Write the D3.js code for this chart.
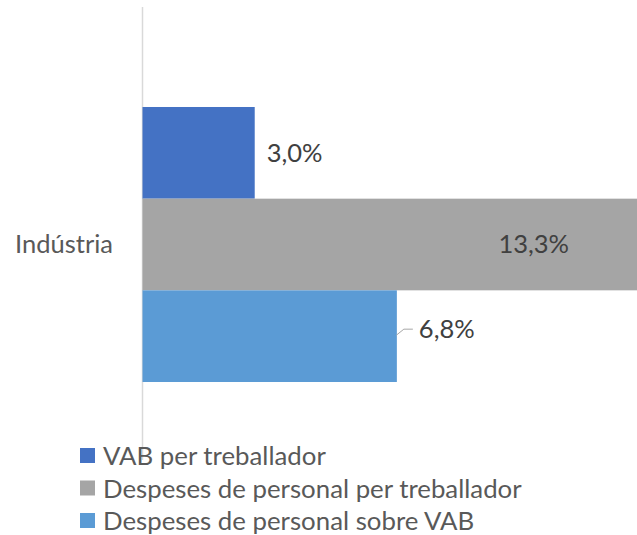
<!DOCTYPE html>
<html lang="ca">
<head>
  <meta charset="UTF-8">
  <title>Indústria</title>
  <style>
    body { margin: 0; background: #fff; }
    svg { display: block; font-family: Lato, "Open Sans", sans-serif; }
    .cat-label { fill: #595959; font-size: 25.5px; }
    .val-label { fill: #404040; font-size: 25.5px; }
    .legend text { fill: #595959; font-size: 25.8px; }
  </style>
</head>
<body>
<svg width="637" height="535"></svg>

<script src="https://d3js.org/d3.v7.min.js"></script>
<script>
  // data
  const categories = ["Indústria"];
  const seriesNames = ["VAB per treballador", "Despeses de personal per treballador", "Despeses de personal sobre VAB"];
  const values = [3.0, 13.3, 6.8];
  const colors = ["#4472C4", "#A5A5A5", "#5B9BD5"];

  const svg = d3.select("svg");
  const fmt = v => d3.format(".1f")(v).replace(".", ",") + "%";

  const x = d3.scaleLinear().domain([0, 13.3]).range([142.5, 640]);
  const yCat = d3.scaleBand().domain(categories).range([7, 482]).paddingOuter(0.3636);
  const ySer = d3.scaleBand().domain(seriesNames).range([0, yCat.bandwidth()]);

  // vertical axis line
  svg.append("line")
    .attr("x1", x(0)).attr("x2", x(0))
    .attr("y1", 7).attr("y2", 460)
    .attr("stroke", "#d9d9d9").attr("stroke-width", 1.5);

  const g = svg.append("g").attr("transform", `translate(0,${yCat(categories[0])})`);

  const rows = seriesNames.map((s, i) => ({ name: s, value: values[i], color: colors[i] }));

  g.selectAll("rect.bar")
    .data(rows)
    .enter().append("rect")
    .attr("class", "bar")
    .attr("x", x(0))
    .attr("y", d => ySer(d.name))
    .attr("width", d => x(d.value) - x(0))
    .attr("height", ySer.bandwidth())
    .attr("fill", d => d.color);

  // value labels
  rows.forEach((d, i) => {
    const cy = ySer(d.name) + ySer.bandwidth() / 2;
    if (i === 0) {
      g.append("text").attr("class", "val-label")
        .attr("x", x(d.value) + 12).attr("y", cy).attr("dy", "0.35em")
        .text(fmt(d.value));
    } else if (i === 1) {
      g.append("text").attr("class", "val-label")
        .attr("x", x(d.value) - 71).attr("y", cy).attr("dy", "0.35em")
        .attr("text-anchor", "end")
        .text(fmt(d.value));
    } else {
      const x0 = x(d.value);
      g.append("path")
        .attr("d", `M${x0 - 0.5},${cy - 1} L${x0 + 7},${cy - 7} L${x0 + 16},${cy - 7}`)
        .attr("fill", "none").attr("stroke", "#a6a6a6").attr("stroke-width", 1);
      g.append("text").attr("class", "val-label")
        .attr("x", x0 + 22).attr("y", cy - 7).attr("dy", "0.35em")
        .text(fmt(d.value));
    }
  });

  // category label
  svg.append("text").attr("class", "cat-label")
    .attr("x", 113)
    .attr("y", yCat(categories[0]) + yCat.bandwidth() / 2)
    .attr("dy", "0.35em")
    .attr("text-anchor", "end")
    .text(categories[0]);

  // legend
  const legend = svg.append("g").attr("class", "legend");
  rows.forEach((d, i) => {
    const ly = 456 + i * 32.5;
    legend.append("rect")
      .attr("x", 80).attr("y", ly - 8)
      .attr("width", 15).attr("height", 15)
      .attr("fill", d.color);
    legend.append("text")
      .attr("x", 103).attr("y", ly).attr("dy", "0.35em")
      .text(d.name);
  });
</script>
</body>
</html>
